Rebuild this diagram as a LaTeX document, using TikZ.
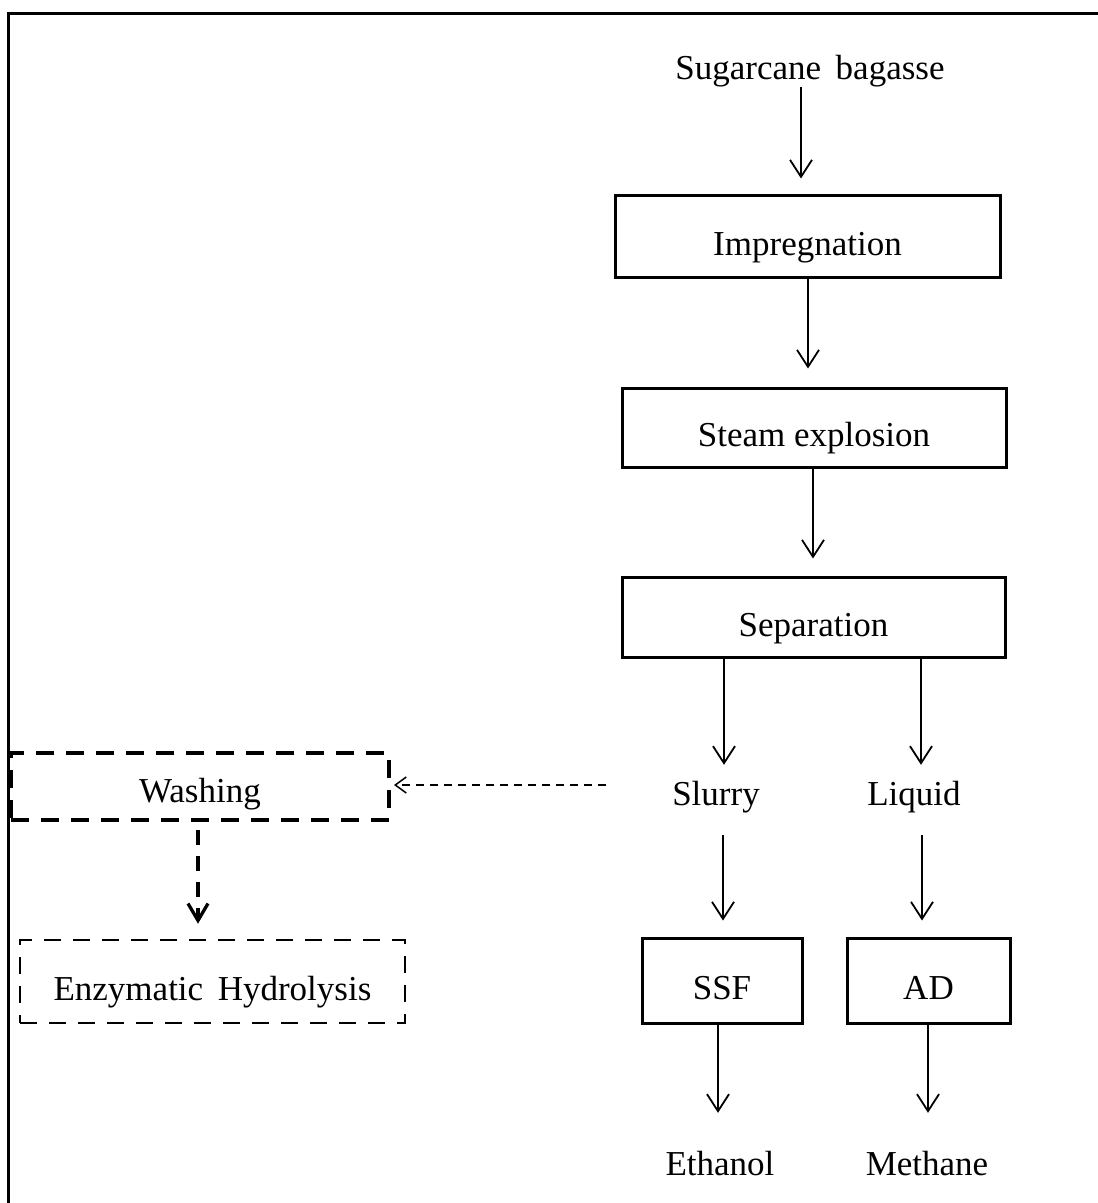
\documentclass[tikz,border=0pt]{standalone}
\usepackage{fontspec}
\setmainfont{Liberation Serif}
\usetikzlibrary{arrows.meta}
\begin{document}
\begin{tikzpicture}[x=1pt,y=-1pt,
  every node/.style={font=\fontsize{35}{42}\selectfont, inner sep=0pt},
  procbox/.style={draw, line width=3pt, text height=38pt, text depth=0pt},
  lbl/.style={anchor=base, text height=25pt, text depth=8pt},
  arr/.style={line width=1.8pt, -{Straight Barb[length=17pt,width=22pt,line width=1.8pt]}},
  washbox/.style={draw, line width=4pt, dash pattern=on 18pt off 12pt, text height=32pt, text depth=0pt},
  enzbox/.style={draw, line width=2.5pt, dash pattern=on 17pt off 12pt, text height=37pt, text depth=0pt},
  darrthin/.style={line width=1.5pt, dash pattern=on 8pt off 6pt, -{Straight Barb[length=11pt,width=16pt,line width=1.5pt]}},
  darrthick/.style={line width=3.3pt, dash pattern=on 15pt off 11pt, -{Straight Barb[length=17pt,width=20pt,line width=3.3pt]}}
]
\useasboundingbox (0,0) rectangle (1098,1203);
% frame (top and left edges visible)
\draw[line width=3pt] (1098,13.5) -- (8.5,13.5) -- (8.5,1203);

% nodes
\node[lbl] (bag) at (810,79) {Sugarcane\, bagasse};
\node[procbox, minimum width=385pt, minimum height=82pt] (imp) at (807.5,236) {Impregnation};
\node[procbox, minimum width=384pt, minimum height=79pt] (steam) at (814,427.5) {Steam explosion};
\node[procbox, minimum width=383pt, minimum height=80pt] (sep) at (813.5,617) {Separation};
\node[lbl] (slurry) at (716,805) {Slurry};
\node[lbl] (liquid) at (914,805) {Liquid};
\node[procbox, minimum width=160pt, minimum height=85pt] (ssf) at (722,980.5) {SSF};
\node[procbox, minimum width=163pt, minimum height=85pt] (ad) at (928.5,980.5) {AD};
\node[lbl] (eth) at (720,1175) {Ethanol};
\node[lbl] (meth) at (927,1175) {Methane};
\node[washbox, minimum width=378pt, minimum height=67pt] (wash) at (200,786.5) {Washing};
\node[enzbox, minimum width=385pt, minimum height=83pt] (enz) at (212.5,981.5) {Enzymatic\, Hydrolysis};

% connectors
\draw[arr, shorten >=15pt] ([xshift=-9pt]bag.south) -- ([xshift=-6.5pt]imp.north);
\draw[arr, shorten >=18pt] ([xshift=0.5pt]imp.south) -- ([xshift=-6pt]steam.north);
\draw[arr, shorten >=17pt] ([xshift=-1pt]steam.south) -- ([xshift=-0.5pt]sep.north);
\draw[arr, shorten >=15pt] ([xshift=-89.5pt]sep.south) -- ([xshift=8pt]slurry.north);
\draw[arr, shorten >=15pt] ([xshift=107.5pt]sep.south) -- ([xshift=7pt]liquid.north);
\draw[arr, shorten <=22pt, shorten >=16pt] ([xshift=7pt]slurry.south) -- ([xshift=1pt]ssf.north);
\draw[arr, shorten <=22pt, shorten >=16pt] ([xshift=8pt]liquid.south) -- ([xshift=-6.5pt]ad.north);
\draw[arr, shorten >=37pt] ([xshift=-4pt]ssf.south) -- ([xshift=-2pt]eth.north);
\draw[arr, shorten >=37pt] ([xshift=-0.5pt]ad.south) -- ([xshift=1pt]meth.north);
\draw[darrthin, shorten <=66pt, shorten >=3pt] ([yshift=11.5pt]slurry.west) -- ([yshift=1.5pt]wash.east);
\draw[darrthick, shorten <=8pt, shorten >=15pt] ([xshift=-2pt]wash.south) -- ([xshift=-14.5pt]enz.north);
\end{tikzpicture}
\end{document}
